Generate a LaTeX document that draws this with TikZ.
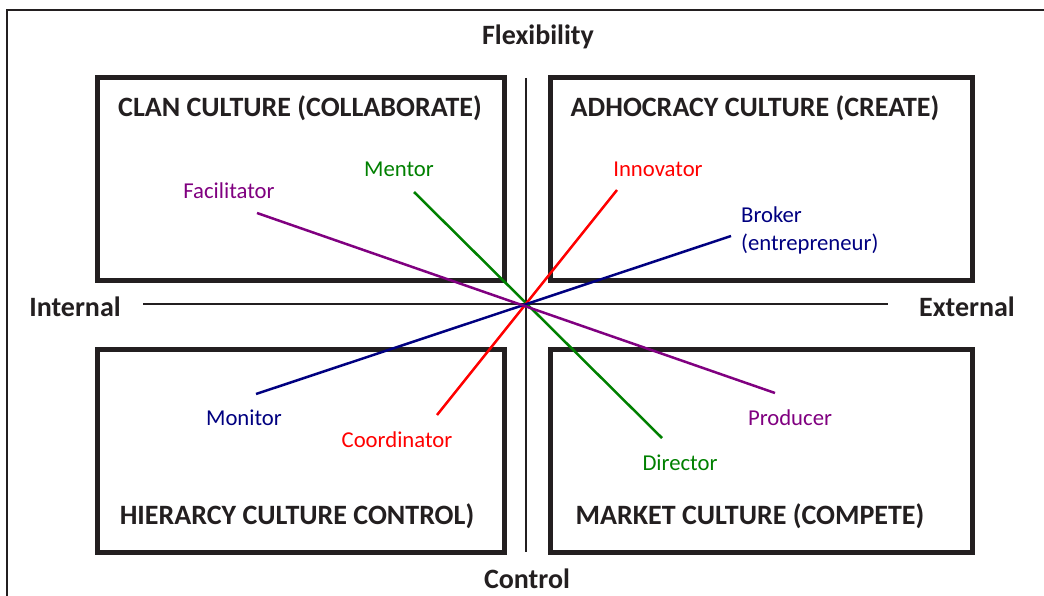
\documentclass[tikz,border=0pt]{standalone}
\usepackage{fontspec}
\setmainfont{Carlito}
\definecolor{frame}{HTML}{231F20}
\definecolor{cpurple}{HTML}{800080}
\definecolor{cgreen}{HTML}{008000}
\definecolor{cred}{HTML}{FF0000}
\definecolor{cnavy}{HTML}{000080}
\tikzset{
  quadbox/.style={draw=frame, line width=5pt},
  axisline/.style={draw=frame, line width=1.5pt},
  bigbold/.style={font=\fontsize{28}{31}\selectfont\bfseries, text=frame, inner sep=0pt},
  rolelabel/.style={font=\fontsize{22.7}{28}\selectfont, inner sep=0pt},
  roleline/.style={line width=2.5pt},
}
\begin{document}
\begin{tikzpicture}[x=1pt,y=-1pt]
\useasboundingbox (0,0) rectangle (1044,596);
% outer frame
\draw[frame, line width=2.5pt] (7,596) -- (7,10) -- (460,10);
\draw[frame, line width=1.2pt] (460,10) -- (618,10);
\draw[frame, line width=2.5pt] (618,10) -- (1044,10);
% boxes
\node[quadbox, minimum width=407pt, minimum height=202pt, inner sep=0pt] (tl) at (300.5,179) {};
\node[quadbox, minimum width=422pt, minimum height=202pt, inner sep=0pt] (tr) at (761,179) {};
\node[quadbox, minimum width=407pt, minimum height=203pt, inner sep=0pt] (bl) at (300.5,450.5) {};
\node[quadbox, minimum width=422pt, minimum height=203pt, inner sep=0pt] (br) at (761,450.5) {};
% axes
\coordinate (vtop) at (526,78);
\coordinate (vbot) at (526,552);
\coordinate (hleft) at (143,304);
\coordinate (hright) at (888,304);
\draw[axisline] (vtop) -- (vbot);
\draw[axisline] (hleft) -- (hright);
% axis labels
\node[bigbold] (flex) at (538,37) {Flexibility};
\node[bigbold] (ctrl) at (527,579) {Control};
\node[bigbold] (int) at (75,307) {Internal};
\node[bigbold] (ext) at (967,307) {External};
% titles
\node[bigbold] (tlt) at (300,108) {CLAN CULTURE (COLLABORATE)};
\node[bigbold] (trt) at (755,108) {ADHOCRACY CULTURE (CREATE)};
\node[bigbold] (blt) at (297,516) {HIERARCY CULTURE CONTROL)};
\node[bigbold] (brt) at (750,516) {MARKET CULTURE (COMPETE)};
% role labels
\node[rolelabel, text=cpurple] (fac) at (229,191) {Facilitator};
\node[rolelabel, text=cgreen] (men) at (399,169) {Mentor};
\node[rolelabel, text=cred] (inn) at (658,169) {Innovator};
\node[rolelabel, text=cnavy, align=left, anchor=north west] (bro) at (741,207) {Broker\\(entrepreneur)};
\node[rolelabel, text=cnavy] (mon) at (244,418) {Monitor};
\node[rolelabel, text=cred] (coo) at (397,440) {Coordinator};
\node[rolelabel, text=cgreen] (dir) at (680,463) {Director};
\node[rolelabel, text=cpurple] (pro) at (790,418) {Producer};
% role line ends
\coordinate (facE) at (257,213);
\coordinate (proE) at (775,393);
\coordinate (menE) at (414,192);
\coordinate (dirE) at (662,438);
\coordinate (innE) at (617,190);
\coordinate (cooE) at (437,415);
\coordinate (broE) at (731,236);
\coordinate (monE) at (256,394);
\draw[roleline, cgreen] (menE) -- (dirE);
\draw[roleline, cred] (innE) -- (cooE);
\draw[roleline, cnavy] (broE) -- (monE);
\draw[roleline, cpurple] (facE) -- (proE);
\end{tikzpicture}
\end{document}
